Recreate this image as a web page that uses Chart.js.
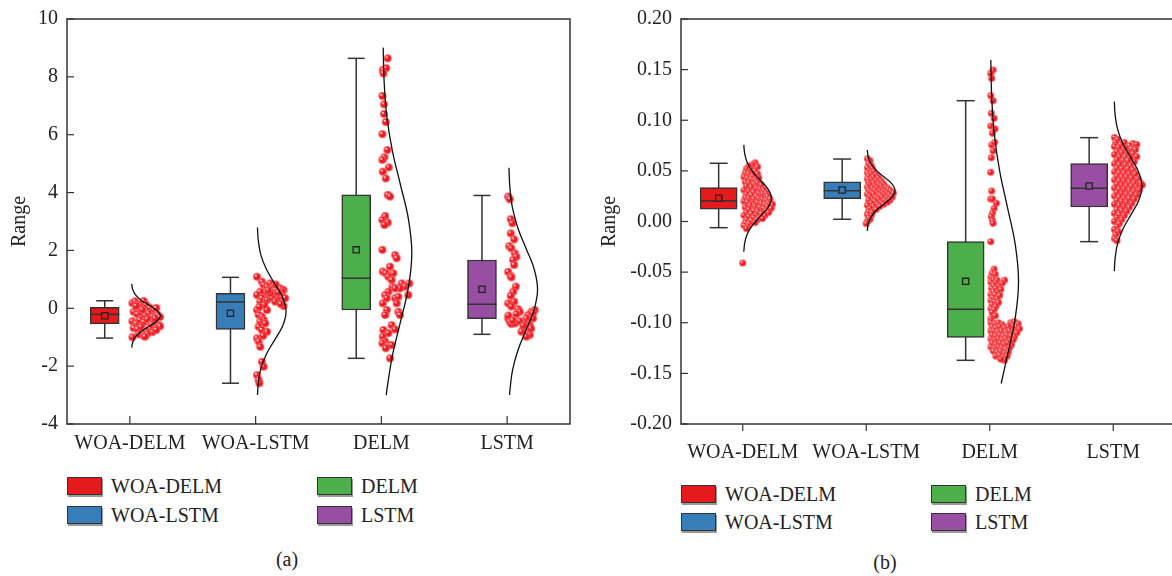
<!DOCTYPE html>
<html><head><meta charset="utf-8">
<script src="https://cdn.jsdelivr.net/npm/chart.js@4.4.0/dist/chart.umd.min.js"></script>
<style>
html,body{margin:0;padding:0;background:#fff;}
body{width:1172px;height:576px;overflow:hidden;position:relative;font-family:"Liberation Serif","Times New Roman",serif;color:#222;}
canvas{position:absolute;top:0;}
#ca{left:0;}
#cb{left:585px;}
.lg{position:absolute;display:flex;align-items:center;font-size:20px;line-height:20px;white-space:nowrap;}
.sw{width:35px;height:18px;border:1px solid #333;box-shadow:1px 2px 0 #999;margin-right:9px;box-sizing:border-box;}
.cap{position:absolute;font-size:20px;transform:translateX(-50%);}
</style></head><body>
<canvas id="ca" width="585" height="470"></canvas>
<canvas id="cb" width="600" height="470"></canvas>
<div id="legends"></div>
<div class="cap" style="left:287px;top:548px;">(a)</div>
<div class="cap" style="left:885px;top:551px;">(b)</div>
<script>
// ---------------- DATA ----------------
const categories = ['WOA-DELM', 'WOA-LSTM', 'DELM', 'LSTM'];
const boxColors = ['#E41A1C', '#377EB8', '#4DAF4A', '#984EA3'];
const yTicksA = [-4, -2, 0, 2, 4, 6, 8, 10];
const yTicksB = [-0.20, -0.15, -0.10, -0.05, 0.00, 0.05, 0.10, 0.15, 0.20];

// panel (a) box statistics
const minA  = [-1.03, -2.59, -1.73, -0.90];
const q1A   = [-0.54, -0.73, -0.06, -0.36];
const medA  = [-0.21,  0.22,  1.04,  0.14];
const q3A   = [ 0.03,  0.52,  3.92,  1.67];
const maxA  = [ 0.26,  1.07,  8.64,  3.90];
const meanA = [-0.26, -0.17,  2.02,  0.66];

// panel (b) box statistics
const minB  = [-0.0061, 0.0022, -0.1371, -0.0199];
const q1B   = [ 0.0123, 0.0225, -0.1144,  0.0143];
const medB  = [ 0.0206, 0.0304, -0.0867,  0.0328];
const q3B   = [ 0.0334, 0.0393, -0.0199,  0.0571];
const maxB  = [ 0.0575, 0.0617,  0.1193,  0.0828];
const meanB = [ 0.0229, 0.0311, -0.0591,  0.0351];

// raw points: [jitter (category units), value]
const ptsA_WOADELM = [[0.02,0.18],[0.04,0.24],[0.06,0.14],[0.09,0.10],[0.11,0.25],[0.13,0.12],[0.08,0.03],[0.16,0.02],[0.19,-0.05],[0.21,0.01],[0.03,-0.12],[0.06,-0.20],[0.09,-0.15],[0.12,-0.25],[0.15,-0.18],[0.18,-0.28],[0.22,-0.22],[0.24,-0.30],[0.02,-0.45],[0.05,-0.52],[0.08,-0.40],[0.11,-0.48],[0.14,-0.38],[0.17,-0.55],[0.20,-0.45],[0.23,-0.58],[0.24,-0.62],[0.03,-0.68],[0.06,-0.72],[0.09,-0.65],[0.13,-0.78],[0.16,-0.70],[0.18,-0.82],[0.21,-0.75],[0.02,-1.00],[0.07,-0.90],[0.11,-0.95],[0.14,-0.88],[0.12,-0.98],[0.05,0.08],[0.10,-0.05],[0.20,-0.35]];
const ptsA_WOALSTM = [[0.011,1.09],[0.05,0.92],[0.064,0.81],[0.09,0.75],[0.116,0.86],[0.13,0.69],[0.143,0.75],[0.156,0.63],[0.196,0.69],[0.222,0.63],[0.209,0.57],[0.183,0.46],[0.209,0.40],[0.235,0.35],[0.169,0.29],[0.143,0.46],[0.103,0.46],[0.077,0.57],[0.037,0.57],[0.011,0.46],[0.05,0.35],[0.037,0.23],[0.09,0.29],[0.13,0.35],[0.156,0.23],[0.222,0.08],[0.011,-0.06],[0.024,-0.23],[0.05,-0.29],[0.09,-0.06],[0.064,-0.40],[0.037,-0.46],[0.077,-0.52],[0.024,-0.64],[0.05,-0.75],[0.09,-0.81],[0.011,-1.04],[0.024,-1.15],[0.037,-1.33],[0.05,-1.85],[0.064,-2.02],[0.011,-2.31],[0.024,-2.48],[0.03,-2.59],[0.116,0.52],[0.07,0.12],[0.10,0.62],[0.18,0.55],[0.16,0.82],[0.20,0.15],[0.03,0.05],[0.06,-0.95]];
const ptsA_DELM = [[0.051,8.64],[0.011,8.24],[0.038,8.30],[0.016,8.12],[0.008,7.34],[0.021,7.05],[0.021,6.72],[0.035,6.44],[0.008,6.02],[0.048,5.47],[0.024,5.22],[0.008,5.13],[0.011,4.72],[0.059,4.87],[0.035,4.49],[0.051,3.92],[0.069,3.86],[0.030,3.19],[0.008,3.05],[0.051,2.96],[0.024,2.88],[0.008,2.02],[0.109,1.84],[0.122,1.73],[0.069,1.44],[0.011,1.27],[0.035,1.21],[0.095,1.21],[0.056,1.09],[0.082,0.98],[0.088,0.75],[0.161,0.86],[0.188,0.75],[0.222,0.86],[0.148,0.69],[0.109,0.69],[0.056,0.57],[0.030,0.46],[0.011,0.17],[0.043,0.35],[0.109,0.35],[0.135,0.40],[0.214,0.46],[0.122,0.17],[0.043,-0.06],[0.135,-0.12],[0.030,-0.23],[0.148,-0.23],[0.016,-0.75],[0.082,-0.58],[0.109,-0.73],[0.056,-0.86],[0.011,-0.98],[0.030,-1.15],[0.008,-1.21],[0.056,-1.27],[0.082,-1.27],[0.035,-1.38],[0.069,-1.73]];
const ptsA_LSTM = [[0.008,3.86],[0.021,3.77],[0.029,3.08],[0.042,2.94],[0.029,2.59],[0.056,2.38],[0.016,2.15],[0.034,2.07],[0.061,1.90],[0.074,1.78],[0.048,1.67],[0.056,1.50],[0.008,1.26],[0.029,1.12],[0.034,1.07],[0.069,0.75],[0.048,0.57],[0.029,0.43],[0.056,0.23],[0.008,0.17],[0.034,0.06],[0.087,-0.03],[0.101,-0.12],[0.074,-0.20],[0.008,-0.35],[0.021,-0.46],[0.034,-0.54],[0.061,-0.52],[0.167,-0.23],[0.153,-0.35],[0.193,-0.12],[0.220,-0.06],[0.206,-0.17],[0.140,-0.52],[0.180,-0.58],[0.127,-0.75],[0.114,-0.81],[0.167,-0.87],[0.180,-0.92],[0.153,-0.98],[0.206,-0.35],[0.010,-0.25],[0.045,-0.42],[0.100,-0.45],[0.130,-0.60],[0.190,-0.70]];

const ptsB_WOADELM = [[0.10,0.058],[0.08,0.056],[0.05,0.055],[0.12,0.054],[0.03,0.052],[0.07,0.051],[0.10,0.050],[0.02,0.048],[0.05,0.047],[0.12,0.047],[0.08,0.045],[0.01,0.044],[0.04,0.043],[0.07,0.042],[0.10,0.041],[0.13,0.043],[0.02,0.039],[0.05,0.038],[0.09,0.037],[0.12,0.038],[0.15,0.036],[0.03,0.035],[0.07,0.034],[0.11,0.033],[0.14,0.032],[0.17,0.031],[0.01,0.031],[0.05,0.030],[0.09,0.029],[0.13,0.028],[0.16,0.027],[0.19,0.028],[0.03,0.027],[0.07,0.026],[0.11,0.025],[0.20,0.025],[0.02,0.024],[0.05,0.023],[0.09,0.022],[0.13,0.023],[0.16,0.022],[0.19,0.021],[0.22,0.022],[0.01,0.020],[0.04,0.019],[0.08,0.018],[0.12,0.019],[0.15,0.018],[0.18,0.017],[0.21,0.018],[0.24,0.017],[0.06,0.016],[0.10,0.015],[0.20,0.015],[0.02,0.014],[0.14,0.014],[0.17,0.013],[0.23,0.013],[0.05,0.012],[0.09,0.011],[0.12,0.010],[0.19,0.011],[0.21,0.009],[0.03,0.009],[0.07,0.008],[0.15,0.008],[0.11,0.006],[0.18,0.006],[0.01,0.006],[0.05,0.005],[0.09,0.004],[0.14,0.004],[0.03,0.002],[0.07,0.001],[0.12,0.002],[0.16,0.003],[0.02,-0.001],[0.05,-0.002],[0.10,-0.001],[0.01,-0.004],[0.04,-0.005],[0.03,-0.007],[0.00,-0.041]];
const ptsB_WOALSTM = [[0.01,0.062],[0.03,0.060],[0.02,0.057],[0.04,0.055],[0.01,0.053],[0.05,0.052],[0.03,0.050],[0.06,0.049],[0.01,0.048],[0.04,0.047],[0.08,0.046],[0.02,0.045],[0.06,0.044],[0.10,0.043],[0.01,0.042],[0.04,0.041],[0.08,0.040],[0.12,0.040],[0.02,0.039],[0.06,0.038],[0.10,0.037],[0.14,0.037],[0.03,0.036],[0.07,0.035],[0.12,0.035],[0.16,0.034],[0.01,0.034],[0.05,0.033],[0.09,0.033],[0.13,0.032],[0.18,0.032],[0.02,0.031],[0.07,0.031],[0.11,0.030],[0.15,0.030],[0.20,0.030],[0.04,0.029],[0.09,0.028],[0.13,0.028],[0.17,0.028],[0.22,0.028],[0.01,0.027],[0.06,0.027],[0.11,0.026],[0.15,0.026],[0.19,0.026],[0.03,0.025],[0.08,0.024],[0.13,0.024],[0.17,0.023],[0.21,0.024],[0.05,0.022],[0.10,0.022],[0.15,0.021],[0.19,0.021],[0.02,0.021],[0.07,0.020],[0.12,0.019],[0.17,0.019],[0.04,0.018],[0.09,0.017],[0.14,0.017],[0.01,0.016],[0.06,0.015],[0.11,0.015],[0.03,0.013],[0.08,0.012],[0.02,0.010],[0.05,0.009],[0.01,0.007],[0.04,0.006],[0.02,0.004],[0.03,0.002],[0.01,0.000],[0.00,-0.002]];
const ptsB_DELM = [[0.027,0.1496],[0.008,0.1463],[0.016,0.1414],[0.008,0.1243],[0.027,0.1193],[0.013,0.1069],[0.035,0.1019],[0.008,0.0943],[0.043,0.0914],[0.022,0.0871],[0.016,0.0756],[0.040,0.0782],[0.027,0.0697],[0.013,0.0630],[0.008,0.0486],[0.016,0.0301],[0.008,0.0222],[0.022,0.0222],[0.054,0.0180],[0.035,0.0130],[0.022,0.0081],[0.013,0.0048],[0.022,0.0009],[0.027,-0.0018],[0.008,-0.0200],
[0.035,-0.047],[0.02,-0.051],[0.045,-0.052],[0.01,-0.055],[0.03,-0.057],[0.06,-0.058],[0.12,-0.058],[0.01,-0.060],[0.05,-0.061],[0.10,-0.061],[0.03,-0.063],[0.075,-0.064],[0.015,-0.066],[0.05,-0.066],[0.09,-0.067],[0.03,-0.069],[0.065,-0.070],[0.01,-0.072],[0.045,-0.072],[0.08,-0.073],[0.025,-0.075],[0.06,-0.076],[0.01,-0.078],[0.04,-0.079],[0.07,-0.080],[0.02,-0.082],[0.05,-0.084],[0.01,-0.086],[0.035,-0.087],[0.02,-0.090],[0.045,-0.093],[0.01,-0.096],
[0.01,-0.100],[0.04,-0.101],[0.07,-0.100],[0.10,-0.102],[0.17,-0.100],[0.20,-0.099],[0.23,-0.101],[0.19,-0.103],[0.215,-0.104],[0.02,-0.104],[0.05,-0.105],[0.08,-0.104],[0.12,-0.105],[0.15,-0.104],[0.24,-0.106],[0.01,-0.108],[0.035,-0.108],[0.065,-0.109],[0.095,-0.108],[0.13,-0.109],[0.16,-0.108],[0.19,-0.109],[0.22,-0.110],[0.02,-0.112],[0.05,-0.113],[0.08,-0.112],[0.11,-0.113],[0.14,-0.112],[0.17,-0.113],[0.20,-0.114],[0.01,-0.116],[0.04,-0.117],[0.07,-0.116],[0.10,-0.117],[0.13,-0.116],[0.16,-0.118],[0.19,-0.117],[0.02,-0.120],[0.05,-0.121],[0.085,-0.120],[0.115,-0.121],[0.145,-0.120],[0.175,-0.122],[0.01,-0.124],[0.04,-0.125],[0.07,-0.124],[0.10,-0.125],[0.13,-0.126],[0.16,-0.125],[0.03,-0.128],[0.06,-0.129],[0.09,-0.128],[0.12,-0.130],[0.15,-0.129],[0.05,-0.133],[0.08,-0.132],[0.11,-0.134],[0.14,-0.133],[0.12,-0.137],[0.09,-0.136]];
const ptsB_LSTM = [[0.01,0.083],[0.035,0.081],[0.02,0.078],[0.09,0.078],[0.06,0.076],[0.16,0.077],[0.19,0.076],[0.13,0.075],[0.01,0.074],[0.045,0.073],[0.10,0.072],[0.15,0.072],[0.18,0.071],[0.03,0.069],[0.07,0.068],[0.12,0.068],[0.16,0.067],[0.01,0.066],[0.05,0.064],[0.10,0.064],[0.14,0.063],[0.19,0.064],[0.03,0.061],[0.08,0.060],[0.12,0.060],[0.17,0.059],[0.01,0.057],[0.05,0.056],[0.10,0.056],[0.14,0.055],[0.03,0.053],[0.07,0.052],[0.12,0.052],[0.16,0.051],[0.01,0.049],[0.05,0.048],[0.09,0.048],[0.13,0.047],[0.18,0.047],[0.03,0.045],[0.07,0.044],[0.11,0.044],[0.15,0.043],[0.20,0.042],[0.01,0.041],[0.05,0.040],[0.09,0.040],[0.13,0.039],[0.17,0.038],[0.22,0.038],[0.03,0.037],[0.07,0.036],[0.11,0.035],[0.15,0.035],[0.19,0.034],[0.235,0.036],[0.01,0.033],[0.05,0.032],[0.09,0.032],[0.13,0.031],[0.17,0.030],[0.21,0.031],[0.03,0.029],[0.07,0.028],[0.11,0.027],[0.15,0.027],[0.19,0.026],[0.01,0.025],[0.05,0.024],[0.09,0.023],[0.13,0.023],[0.17,0.022],[0.03,0.021],[0.07,0.020],[0.11,0.019],[0.15,0.018],[0.01,0.017],[0.05,0.016],[0.09,0.015],[0.13,0.014],[0.03,0.012],[0.07,0.011],[0.11,0.010],[0.01,0.008],[0.05,0.007],[0.09,0.006],[0.03,0.004],[0.07,0.002],[0.01,0.000],[0.05,-0.002],[0.03,-0.005],[0.01,-0.008],[0.04,-0.010],[0.02,-0.013],[0.01,-0.017],[0.03,-0.019]];

// distribution curves: [value, width relative to the curve's widest point]
const curveA_WOADELM = [[0.84,0.011],[0.66,0.044],[0.47,0.135],[0.29,0.325],[0.11,0.607],[-0.08,0.882],[-0.26,1],[-0.44,0.882],[-0.63,0.607],[-0.81,0.325],[-0.99,0.135],[-1.18,0.044],[-1.36,0.011]];
const curveA_WOALSTM = [[2.79,0.011],[2.31,0.044],[1.82,0.135],[1.34,0.325],[0.85,0.607],[0.37,0.882],[-0.12,1],[-0.61,0.882],[-1.09,0.607],[-1.58,0.325],[-2.06,0.135],[-2.55,0.044],[-3.0,0.012]];
const curveA_DELM = [[9.01,0.011],[7.83,0.044],[6.64,0.135],[5.46,0.325],[4.27,0.607],[3.09,0.882],[1.9,1],[0.72,0.882],[-0.47,0.607],[-1.66,0.325],[-2.84,0.135],[-3.0,0.118]];
const curveA_LSTM = [[4.86,0.011],[4.16,0.044],[3.46,0.135],[2.76,0.325],[2.06,0.607],[1.36,0.882],[0.66,1],[-0.04,0.882],[-0.74,0.607],[-1.44,0.325],[-2.14,0.135],[-2.84,0.044],[-3.0,0.033]];
const curveB_WOADELM = [[0.0757,0.011],[0.0669,0.044],[0.0581,0.135],[0.0493,0.325],[0.0405,0.607],[0.0317,0.882],[0.0229,1],[0.0141,0.882],[0.0053,0.607],[-0.0035,0.325],[-0.0123,0.135],[-0.0211,0.044],[-0.0299,0.011]];
const curveB_WOALSTM = [[0.0706,0.011],[0.0640,0.044],[0.0573,0.135],[0.0507,0.325],[0.0440,0.607],[0.0374,0.882],[0.0307,1],[0.0241,0.882],[0.0174,0.607],[0.0108,0.325],[0.0041,0.135],[-0.0026,0.044],[-0.0092,0.011]];
const curveB_DELM = [[0.1594,0.011],[0.1230,0.044],[0.0866,0.135],[0.0502,0.325],[0.0138,0.607],[-0.0226,0.882],[-0.0590,1],[-0.0954,0.882],[-0.1318,0.607],[-0.1600,0.382]];
const curveB_LSTM = [[0.1184,0.011],[0.1045,0.044],[0.0905,0.135],[0.0766,0.325],[0.0626,0.607],[0.0487,0.882],[0.0347,1],[0.0208,0.882],[0.0068,0.607],[-0.0072,0.325],[-0.0211,0.135],[-0.0351,0.044],[-0.0490,0.011]];

// ---------------- DRAWING ----------------
const FONT = '"Liberation Serif", "Times New Roman", serif';
const INK = '#333';

function makeDot(r) {
  const s = Math.ceil(r * 2 + 2);
  const c = document.createElement('canvas');
  c.width = s; c.height = s;
  const g = c.getContext('2d');
  const cx = s / 2, cy = s / 2;
  g.beginPath(); g.arc(cx, cy, r, 0, Math.PI * 2);
  g.fillStyle = '#ec1c24'; g.fill();
  g.lineWidth = 0.8; g.strokeStyle = 'rgba(255,120,120,0.9)'; g.stroke();
  g.beginPath(); g.arc(cx - r * 0.3, cy - r * 0.3, r * 0.3, 0, Math.PI * 2);
  g.fillStyle = 'rgba(255,255,255,0.85)'; g.fill();
  return c;
}

const framePlugin = {
  id: 'frame',
  afterDraw(chart, args, opts) {
    const {ctx, chartArea: a, scales: {x, y}} = chart;
    ctx.save();
    ctx.strokeStyle = INK; ctx.lineWidth = 1.5;
    ctx.strokeRect(a.left, a.top, a.right - a.left, a.bottom - a.top);
    ctx.lineWidth = 1.2;
    y.ticks.forEach(t => {
      const py = y.getPixelForValue(t.value);
      ctx.beginPath(); ctx.moveTo(a.left, py); ctx.lineTo(a.left + 7, py); ctx.stroke();
    });
    x.ticks.forEach(t => {
      const px = x.getPixelForValue(t.value);
      ctx.beginPath();
      if (opts.xInner) { ctx.moveTo(px, a.bottom); ctx.lineTo(px, a.bottom - 8); }
      else { ctx.moveTo(px, a.bottom); ctx.lineTo(px, a.bottom + 7); }
      ctx.stroke();
    });
    ctx.restore();
  }
};

function buildPanel(canvasId, p) {
  const ds = [];
  const bx = i => i + 1 + p.boxOff;
  const wh = [];
  categories.forEach((c, i) => { wh.push({x: bx(i), y: p.min[i]}, {x: bx(i), y: p.max[i]}, {x: bx(i), y: null}); });
  ds.push({type: 'line', data: wh, borderColor: INK, borderWidth: 1.5, pointRadius: 0, spanGaps: false, order: 9});
  const caps = [];
  categories.forEach((c, i) => { caps.push({x: bx(i), y: p.min[i]}, {x: bx(i), y: p.max[i]}); });
  ds.push({type: 'scatter', data: caps, pointStyle: 'line', pointRadius: p.capR, pointBorderColor: INK, pointBorderWidth: 1.5, order: 8});
  ds.push({type: 'bar', data: categories.map((c, i) => ({x: bx(i), y: [p.q1[i], p.q3[i]]})),
    backgroundColor: boxColors, borderColor: INK, borderWidth: 1.5, borderSkipped: false, barThickness: p.barPx, grouped: false, order: 7});
  ds.push({type: 'scatter', data: categories.map((c, i) => ({x: bx(i), y: p.med[i]})), pointStyle: 'line', pointRadius: p.barPx / 2, pointBorderColor: INK, pointBorderWidth: 1.5, order: 6});
  ds.push({type: 'scatter', data: categories.map((c, i) => ({x: bx(i), y: p.mean[i]})), pointStyle: 'rect', pointRadius: 4.4, pointBackgroundColor: boxColors, pointBorderColor: '#222', pointBorderWidth: 1.3, order: 5});
  const dot = makeDot(p.dotR);
  p.points.forEach((arr, i) => {
    ds.push({type: 'scatter', data: arr.map(([dx, v]) => ({x: i + 1 + dx, y: v})), pointStyle: dot, pointRadius: p.dotR, order: 3});
  });
  p.curves.forEach((arr, i) => {
    ds.push({type: 'line', data: arr.map(([v, f]) => ({x: i + 1 + p.curveBase + f * p.curvePeak, y: v})),
      borderColor: '#111', borderWidth: 1.3, pointRadius: 0, tension: 0.4, fill: false, order: 1});
  });

  const canvas = document.getElementById(canvasId);
  return new Chart(canvas, {
    type: 'scatter',
    data: {datasets: ds},
    plugins: [framePlugin],
    options: {
      responsive: false, animation: false, events: [], devicePixelRatio: 1,
      layout: {autoPadding: false, padding: {left: 0, top: 19, right: p.padRight, bottom: 0}},
      plugins: {legend: {display: false}, tooltip: {enabled: false}, frame: {xInner: p.xInner}},
      scales: {
        x: {
          type: 'linear', min: 0.5, max: 4.5, offset: false,
          afterBuildTicks: s => { s.ticks = categories.map((c, i) => ({value: i + 1})); },
          afterFit: s => { s.height = 46; s.paddingLeft = 0; s.paddingRight = 0; },
          border: {display: false},
          grid: {display: false, offset: false},
          ticks: {autoSkip: false, maxRotation: 0, padding: p.xPad, color: '#222', font: {family: FONT, size: 20},
            callback: v => categories[Math.round(v) - 1] || ''}
        },
        y: {
          type: 'linear', min: p.yTicks[0], max: p.yTicks[p.yTicks.length - 1],
          afterBuildTicks: s => { s.ticks = p.yTicks.map(v => ({value: v})); },
          afterFit: s => { s.width = p.yWidth; },
          border: {display: false},
          grid: {display: false},
          ticks: {padding: p.yPad, color: '#222', font: {family: FONT, size: 20}, callback: p.fmt},
          title: {display: true, text: 'Range', color: '#222', font: {family: FONT, size: 20}, padding: {top: p.titlePad, bottom: 0}}
        }
      }
    }
  });
}

buildPanel('ca', {
  min: minA, q1: q1A, med: medA, q3: q3A, max: maxA, mean: meanA,
  points: [ptsA_WOADELM, ptsA_WOALSTM, ptsA_DELM, ptsA_LSTM],
  curves: [curveA_WOADELM, curveA_WOALSTM, curveA_DELM, curveA_LSTM],
  yTicks: yTicksA, fmt: v => String(v),
  boxOff: -0.2, barPx: 29, capR: 8.5, dotR: 3.8, curveBase: 0.012, curvePeak: 0.23,
  padRight: 15, yWidth: 67, titlePad: 8, xInner: true, xPad: 0, yPad: 1
});
buildPanel('cb', {
  min: minB, q1: q1B, med: medB, q3: q3B, max: maxB, mean: meanB,
  points: [ptsB_WOADELM, ptsB_WOALSTM, ptsB_DELM, ptsB_LSTM],
  curves: [curveB_WOADELM, curveB_WOALSTM, curveB_DELM, curveB_LSTM],
  yTicks: yTicksB, fmt: v => v.toFixed(2),
  boxOff: -0.195, barPx: 37, capR: 9, dotR: 3.3, curveBase: 0.006, curvePeak: 0.227,
  padRight: 10, yWidth: 96, titlePad: 13, xInner: false, xPad: 9, yPad: 1
});

// legends (HTML text)
const legendLayouts = [
  {cols: [67, 317], rows: [476, 505]},
  {cols: [681, 931], rows: [484, 512]}
];
const legendOrder = [[0, 0, 0], [1, 0, 1], [2, 1, 0], [3, 1, 1]]; // category, col, row
const holder = document.getElementById('legends');
legendLayouts.forEach(L => {
  legendOrder.forEach(([ci, col, row]) => {
    const d = document.createElement('div');
    d.className = 'lg';
    d.style.left = L.cols[col] + 'px';
    d.style.top = L.rows[row] + 'px';
    const sw = document.createElement('span');
    sw.className = 'sw'; sw.style.background = boxColors[ci];
    const t = document.createElement('span'); t.textContent = categories[ci];
    d.appendChild(sw); d.appendChild(t);
    holder.appendChild(d);
  });
});
</script>
</body></html>
